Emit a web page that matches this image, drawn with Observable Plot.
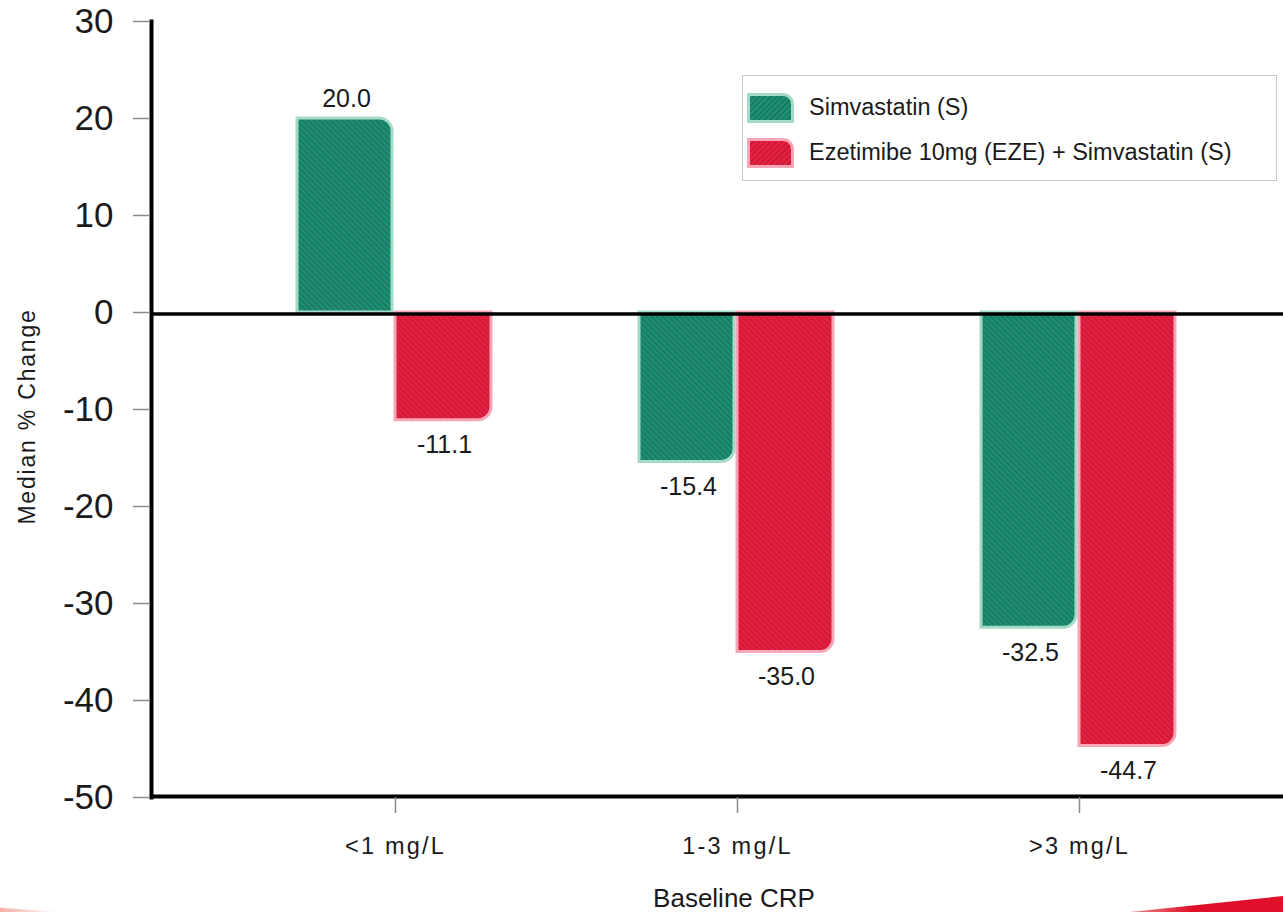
<!DOCTYPE html>
<html><head><meta charset="utf-8">
<script src="https://cdn.jsdelivr.net/npm/d3@7"></script>
<script src="https://cdn.jsdelivr.net/npm/@observablehq/plot@0.6"></script>
<style>
body{margin:0;background:#fff;}
#wrap{position:relative;width:1283px;height:912px;overflow:hidden;font-family:"Liberation Sans",Arial,sans-serif;color:#1a1a1a;}
#wrap svg{position:absolute;left:0;top:0;}
g[aria-label="x-axis tick label"] text{letter-spacing:2.2px;}
.ylab{letter-spacing:1.8px;}
#legend{position:absolute;left:742px;top:75px;width:535px;height:106px;border:1.5px solid #c9c9c9;background:#fff;box-sizing:border-box;}
.row{position:absolute;left:0;height:32px;width:100%;}
.sw{position:absolute;left:4px;top:1px;width:41px;height:24px;border-top-right-radius:11px;}
.lt{position:absolute;left:66px;top:0;line-height:30px;font-size:23.5px;white-space:nowrap;}
.deco{position:absolute;}
</style></head><body><div id="wrap"></div>
<script>
const categories = ["<1 mg/L", "1-3 mg/L", ">3 mg/L"];
const seriesNames = ["Simvastatin (S)", "Ezetimibe 10mg (EZE) + Simvastatin (S)"];
const simvastatin = [20.0, -15.4, -32.5];
const ezeSimva = [-11.1, -35.0, -44.7];
const yTicks = [30, 20, 10, 0, -10, -20, -30, -40, -50];
const yTitle = "Median % Change";
const xTitle = "Baseline CRP";

const style = {
  green: {base: "#1f8f73", stripe: "#17775f", border: "#a3dbc8", id: "hatchG"},
  red: {base: "#e6213f", stripe: "#c8193a", border: "#f6a6b6", id: "hatchR"}
};

const rows = [];
categories.forEach((c, i) => {
  rows.push({cat: c, series: seriesNames[0], value: simvastatin[i]});
  rows.push({cat: c, series: seriesNames[1], value: ezeSimva[i]});
});

function defs() {
  const d = d3.create("svg:defs");
  for (const k of ["green", "red"]) {
    const s = style[k];
    const p = d.append("pattern").attr("id", s.id).attr("patternUnits", "userSpaceOnUse")
      .attr("width", 4).attr("height", 4).attr("patternTransform", "rotate(-45)");
    p.append("rect").attr("width", 4).attr("height", 4).attr("fill", s.base);
    p.append("rect").attr("width", 1.5).attr("height", 4).attr("fill", s.stripe);
  }
  return d.node();
}

const barOpts = (i, sign) => {
  const s = i === 0 ? style.green : style.red;
  const o = {
    x: "cat", y: "value",
    fill: `url(#${s.id})`, stroke: s.border, strokeWidth: 3,
    insetLeft: i === 0 ? 73 : 171,
    insetRight: i === 0 ? 174 : 75
  };
  if (sign > 0) o.rx2y1 = 13; else o.rx2y2 = 13;
  return o;
};
const sel = (i, sign) => rows.filter(r => r.series === seriesNames[i] && (sign > 0 ? r.value >= 0 : r.value < 0));

const marks = [defs];
for (const i of [0, 1]) for (const sign of [1, -1]) {
  marks.push(Plot.barY(sel(i, sign), barOpts(i, sign)));
}
marks.push(
  Plot.ruleY([0], {stroke: "#000", strokeWidth: 3.5, dy: 1.5}),
  Plot.ruleY([-50], {stroke: "#000", strokeWidth: 4, dy: -1}),
  Plot.frame({anchor: "left", stroke: "#000", strokeWidth: 4, dx: 1}),
  Plot.axisY({ticks: yTicks, tickSize: 17, tickPadding: 20, stroke: "#8a8a8a", strokeWidth: 1.5, fontSize: 35, tickFormat: d => String(d), label: null}),
  Plot.axisX({tickSize: 16, tickPadding: 24, stroke: "#8a8a8a", strokeWidth: 1.5, fontSize: 23.5, label: null})
);
for (const i of [0, 1]) {
  const dx = i === 0 ? -49 : 49;
  marks.push(Plot.text(sel(i, 1), {x: "cat", y: "value", text: d => d.value.toFixed(1), dx, lineAnchor: "bottom", dy: -12, fontSize: 25, fill: "#1a1a1a"}));
  marks.push(Plot.text(sel(i, -1), {x: "cat", y: "value", text: d => d.value.toFixed(1), dx, lineAnchor: "top", dy: 15, fontSize: 25, fill: "#1a1a1a"}));
}
marks.push(
  Plot.text([yTitle], {text: d => d, frameAnchor: "left", textAnchor: "middle", rotate: -90, dx: -132, dy: 7, lineAnchor: "top", fontSize: 23, fill: "#1a1a1a", className: "ylab"}),
  Plot.text([xTitle], {text: d => d, frameAnchor: "bottom", textAnchor: "middle", dx: 17, dy: 91, lineAnchor: "top", fontSize: 26, fill: "#1a1a1a"})
);

const chart = Plot.plot({
  width: 1283, height: 912,
  marginLeft: 150, marginRight: 0, marginTop: 21, marginBottom: 115,
  style: {fontFamily: "'Liberation Sans', Arial, sans-serif", color: "#1a1a1a", background: "transparent", overflow: "visible"},
  x: {domain: categories, range: [224, 1250], padding: 0, axis: null},
  y: {domain: [-50, 30], axis: null},
  marks
});
const wrap = document.getElementById("wrap");
wrap.appendChild(chart);

// legend
const legend = document.createElement("div");
legend.id = "legend";
const legendItems = [
  {name: seriesNames[0], s: style.green, top: 16},
  {name: seriesNames[1], s: style.red, top: 61}
];
for (const it of legendItems) {
  const row = document.createElement("div");
  row.className = "row"; row.style.top = it.top + "px";
  const sw = document.createElement("div");
  sw.className = "sw";
  sw.style.background = `repeating-linear-gradient(135deg, ${it.s.base} 0 2.4px, ${it.s.stripe} 2.4px 4px)`;
  sw.style.border = `3px solid ${it.s.border}`;
  const t = document.createElement("div");
  t.className = "lt"; t.textContent = it.name;
  row.appendChild(sw); row.appendChild(t);
  legend.appendChild(row);
}
wrap.appendChild(legend);

// decorative corner swooshes
const d1 = document.createElement("div");
d1.className = "deco";
d1.style.cssText = "left:1130px;top:896px;width:153px;height:16px;background:linear-gradient(90deg,#f08a8a,#e0102a 40%);clip-path:polygon(0 100%,100% 0,100% 100%);";
wrap.appendChild(d1);
const d2 = document.createElement("div");
d2.className = "deco";
d2.style.cssText = "left:0;top:905px;width:60px;height:7px;background:linear-gradient(90deg,#f3b0a6,rgba(255,255,255,0));clip-path:polygon(0 40%,100% 100%,0 100%);";
wrap.appendChild(d2);
</script></body></html>
